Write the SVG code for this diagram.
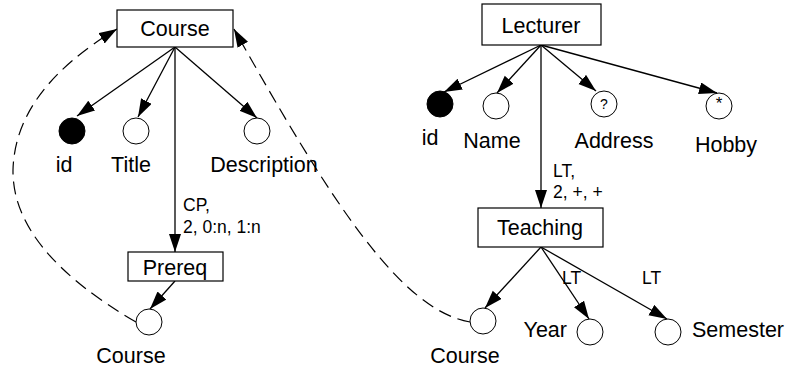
<svg xmlns="http://www.w3.org/2000/svg" width="790" height="370" viewBox="0 0 790 370">
  <defs>
    <marker id="arrow" markerUnits="userSpaceOnUse" markerWidth="19" markerHeight="13" refX="18" refY="6" orient="auto">
      <path d="M0,0 L18,6 L0,12 z" fill="#000"/>
    </marker>
    <style>
      text { font-family: "Liberation Sans", Arial, sans-serif; fill: #000; }
      .lbl { font-size: 21.5px; }
      .elbl { font-size: 17.5px; }
      .q { font-size: 14px; }
      .star { font-size: 17px; }
      .box { fill: #fff; stroke: #000; stroke-width: 1.2; }
      .att { fill: #fff; stroke: #000; stroke-width: 1; }
      .key { fill: #000; stroke: #000; stroke-width: 1; }
      .edge { fill: none; stroke: #000; stroke-width: 1.3; marker-end: url(#arrow); }
      .ref { fill: none; stroke: #000; stroke-width: 1.2; stroke-dasharray: 13 7; marker-end: url(#arrow); }
    </style>
  </defs>

  <!-- connectors -->
  <g id="connectors">
    <!-- Course subtree -->
    <path class="edge" d="M175,47 L77,116"/>
    <path class="edge" d="M175,47 L138,117"/>
    <path class="edge" d="M175,47 L257,118"/>
    <path class="edge" d="M175,47 L175,252"/>
    <path class="edge" d="M175,281 L150,309"/>
    <!-- Lecturer subtree -->
    <path class="edge" d="M541,45 L444,92"/>
    <path class="edge" d="M541,45 L497,93"/>
    <path class="edge" d="M541,45 L596,91"/>
    <path class="edge" d="M541,45 L717,93"/>
    <path class="edge" d="M541,45 L541,208"/>
    <!-- Teaching subtree -->
    <path class="edge" d="M541,247 L485,308"/>
    <path class="edge" d="M541,247 L589,319"/>
    <path class="edge" d="M541,247 L667,319"/>
    <!-- references back to Course -->
    <path class="ref" d="M136,322 Q12,250 13,170 Q15,90 117,29"/>
    <path class="ref" d="M470,322 C400,310 330,200 234,29"/>
  </g>

  <!-- edge labels -->
  <g id="edge-labels">
    <text class="elbl" x="183" y="211">CP,</text>
    <text class="elbl" x="183" y="233">2, 0:n, 1:n</text>
    <text class="elbl" x="553" y="177">LT,</text>
    <text class="elbl" x="553" y="198">2, +, +</text>
    <text class="elbl" x="562" y="284">LT</text>
    <text class="elbl" x="642" y="284">LT</text>
  </g>

  <g id="course">
    <rect class="box" x="117" y="10" width="116" height="37"/>
    <text class="lbl" x="175" y="36" text-anchor="middle">Course</text>
  </g>
  <g id="course-id">
    <circle class="key" cx="72" cy="131" r="13"/>
    <text class="lbl" x="64" y="172" text-anchor="middle">id</text>
  </g>
  <g id="course-title">
    <circle class="att" cx="136" cy="131" r="13"/>
    <text class="lbl" x="131" y="172" text-anchor="middle">Title</text>
  </g>
  <g id="course-description">
    <circle class="att" cx="257" cy="131" r="13"/>
    <text class="lbl" x="264" y="172" text-anchor="middle">Description</text>
  </g>
  <g id="prereq">
    <rect class="box" x="128" y="252" width="95" height="29"/>
    <text class="lbl" x="175" y="275" text-anchor="middle">Prereq</text>
  </g>
  <g id="prereq-course">
    <circle class="att" cx="149" cy="322" r="13"/>
    <text class="lbl" x="131" y="363" text-anchor="middle">Course</text>
  </g>

  <g id="lecturer">
    <rect class="box" x="482" y="4" width="119" height="41"/>
    <text class="lbl" x="541" y="33" text-anchor="middle">Lecturer</text>
  </g>
  <g id="lecturer-id">
    <circle class="key" cx="440" cy="104" r="13"/>
    <text class="lbl" x="430" y="145" text-anchor="middle">id</text>
  </g>
  <g id="lecturer-name">
    <circle class="att" cx="496" cy="106" r="13"/>
    <text class="lbl" x="492" y="148" text-anchor="middle">Name</text>
  </g>
  <g id="lecturer-address">
    <circle class="att" cx="604" cy="104" r="13"/>
    <text class="q" x="604" y="109" text-anchor="middle">?</text>
    <text class="lbl" x="614" y="148" text-anchor="middle">Address</text>
  </g>
  <g id="lecturer-hobby">
    <circle class="att" cx="719" cy="106" r="13"/>
    <text class="star" x="719" y="109" text-anchor="middle">*</text>
    <text class="lbl" x="726" y="152" text-anchor="middle">Hobby</text>
  </g>
  <g id="teaching">
    <rect class="box" x="478" y="208" width="125" height="39"/>
    <text class="lbl" x="540" y="235" text-anchor="middle">Teaching</text>
  </g>
  <g id="teaching-course">
    <circle class="att" cx="483" cy="321" r="13"/>
    <text class="lbl" x="465" y="363" text-anchor="middle">Course</text>
  </g>
  <g id="teaching-year">
    <circle class="att" cx="590" cy="332" r="13"/>
    <text class="lbl" x="567" y="337" text-anchor="end">Year</text>
  </g>
  <g id="teaching-semester">
    <circle class="att" cx="668" cy="332" r="13"/>
    <text class="lbl" x="692" y="337">Semester</text>
  </g>
</svg>
